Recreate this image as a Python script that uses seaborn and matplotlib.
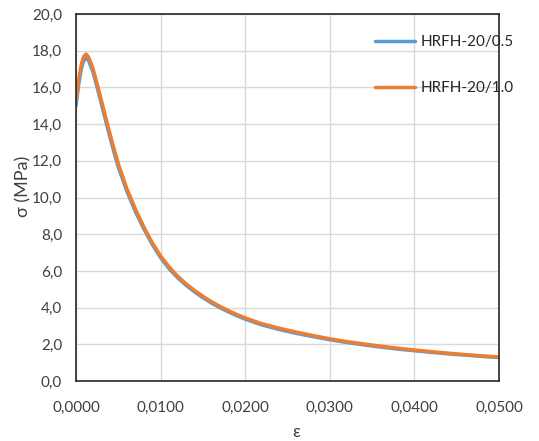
import numpy as np
import pandas as pd
import seaborn as sns
import matplotlib.pyplot as plt
import matplotlib.ticker as ticker

# valores (deformação x tensão)
deformacao = [0.0, 0.0003, 0.0006, 0.0009, 0.0012, 0.0015, 0.002, 0.0025, 0.003,
              0.0035, 0.004, 0.0045, 0.005, 0.006, 0.007, 0.008, 0.009, 0.010,
              0.011, 0.012, 0.013, 0.014, 0.015, 0.016, 0.017, 0.018, 0.019,
              0.020, 0.022, 0.024, 0.026, 0.028, 0.030, 0.032, 0.034, 0.036,
              0.038, 0.040, 0.042, 0.044, 0.046, 0.048, 0.050]

tensao_05 = [15.0, 16.1, 16.95, 17.45, 17.6, 17.45, 16.85, 16.0, 15.1,
             14.2, 13.3, 12.45, 11.65, 10.35, 9.25, 8.3, 7.45, 6.72,
             6.12, 5.63, 5.22, 4.86, 4.54, 4.25, 4.0, 3.77, 3.56,
             3.37, 3.05, 2.81, 2.6, 2.42, 2.25, 2.1, 1.97, 1.85,
             1.74, 1.65, 1.56, 1.48, 1.41, 1.34, 1.28]

tensao_10 = [15.3, 16.4, 17.2, 17.68, 17.82, 17.65, 17.05, 16.2, 15.3,
             14.4, 13.5, 12.65, 11.85, 10.5, 9.4, 8.42, 7.55, 6.82,
             6.22, 5.72, 5.3, 4.94, 4.62, 4.33, 4.07, 3.84, 3.63,
             3.44, 3.12, 2.88, 2.67, 2.48, 2.3, 2.15, 2.02, 1.9,
             1.79, 1.69, 1.6, 1.52, 1.44, 1.37, 1.31]

series = ["HRFH-20/0.5", "HRFH-20/1.0"]
cores = ["#5B9BD5", "#ED7D31"]

df = pd.concat([
    pd.DataFrame({"eps": deformacao, "sigma": tensao_05, "serie": series[0]}),
    pd.DataFrame({"eps": deformacao, "sigma": tensao_10, "serie": series[1]}),
])

sns.set_style("whitegrid")
plt.rcParams['font.family'] = ['Lato', 'DejaVu Sans']

fig = plt.figure(figsize=(5.39, 4.41), dpi=100)
ax = fig.add_axes([0.141, 0.136, 0.785, 0.832])

sns.lineplot(data=df, x="eps", y="sigma", hue="serie", palette=cores,
             linewidth=2.5, ax=ax, sort=False)

ax.set_xlim(0, 0.05)
ax.set_ylim(0, 20)
ax.xaxis.set_major_locator(ticker.MultipleLocator(0.01))
ax.yaxis.set_major_locator(ticker.MultipleLocator(2))
ax.xaxis.set_major_formatter(ticker.FuncFormatter(lambda v, p: f"{v:.4f}".replace(".", ",")))
ax.yaxis.set_major_formatter(ticker.FuncFormatter(lambda v, p: f"{v:.1f}".replace(".", ",")))
ax.tick_params(labelsize=11, colors="#404040", length=0)
ax.tick_params(axis="x", pad=14)
ax.tick_params(axis="y", pad=10)
ax.grid(True, color="#d9d9d9", linewidth=1)
for s in ax.spines.values():
    s.set_color("#262626")
    s.set_linewidth(1.2)

ax.set_xlabel("ε", fontsize=12.5, color="#404040")
ax.set_ylabel("σ (MPa)", fontsize=13, color="#404040")
ax.xaxis.set_label_coords(0.52, -0.118)
ax.yaxis.set_label_coords(-0.106, 0.53)

ax.legend(title=None, loc="upper left", bbox_to_anchor=(0.707, 0.943),
          frameon=False, fontsize=11, borderpad=0, borderaxespad=0,
          handlelength=2.6, handletextpad=0.35, labelspacing=2.1)

fig.savefig("out.png", dpi=100)
